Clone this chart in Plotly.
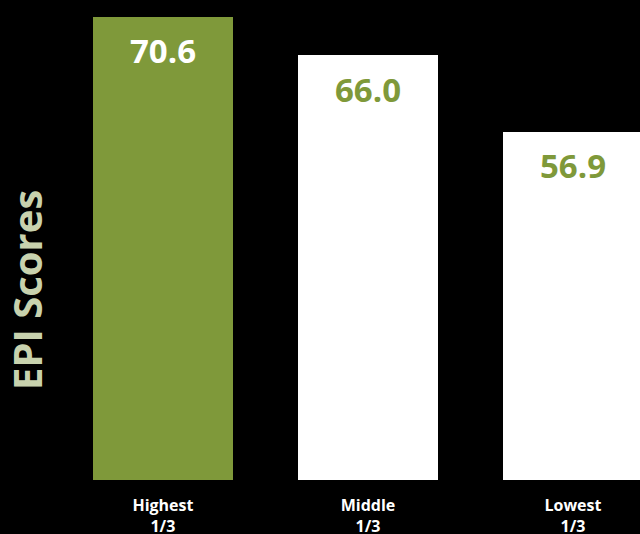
import plotly.graph_objects as go

categories = ["Highest<br>1/3", "Middle<br>1/3", "Lowest<br>1/3"]
scores = [70.6, 66.0, 56.9]
value_labels = ["70.6", "66.0", "56.9"]
axis_title = "EPI Scores"

OLIVE = "#7f993a"
bar_colors = [OLIVE, "#ffffff", "#ffffff"]
label_colors = ["#ffffff", OLIVE, OLIVE]
FONT = "Open Sans"

x_idx = list(range(len(categories)))

fig = go.Figure()
fig.add_trace(go.Bar(
    x=x_idx, y=scores, width=0.683,
    marker=dict(color=bar_colors, line=dict(width=0)),
    hoverinfo="skip",
))

for i, (v, t, c) in enumerate(zip(scores, value_labels, label_colors)):
    fig.add_annotation(x=i, y=v, text=t, showarrow=False, xanchor="center",
                       yanchor="middle", yshift=-34,
                       font=dict(family=FONT, size=33, color=c, weight="bold"))

fig.add_annotation(xref="paper", yref="paper", x=0, y=0.396, xshift=-33,
                   text=axis_title, textangle=-90, showarrow=False,
                   xanchor="center", yanchor="middle", borderpad=0,
                   font=dict(family=FONT, size=40, color="#c8d2ae", weight="bold"))

fig.update_layout(
    width=640, height=534,
    paper_bgcolor="black", plot_bgcolor="black",
    margin=dict(l=60, r=0, t=0, b=54, autoexpand=False),
    showlegend=False,
    bargap=0,
    xaxis=dict(range=[-0.502, 2.327], tickmode="array", tickvals=x_idx,
               ticktext=[f"<b>{c}</b>" for c in categories],
               tickfont=dict(family=FONT, size=16, color="white"),
               ticklabelstandoff=14, automargin=False,
               showgrid=False, zeroline=False, showline=False, ticks="",
               fixedrange=True),
    yaxis=dict(range=[15.22, 72.63], visible=False, showgrid=False,
               zeroline=False, fixedrange=True, automargin=False),
)

fig.write_html("out.html", config={"displayModeBar": False},
               post_script="document.body.style.margin='0';document.body.style.background='black';")
